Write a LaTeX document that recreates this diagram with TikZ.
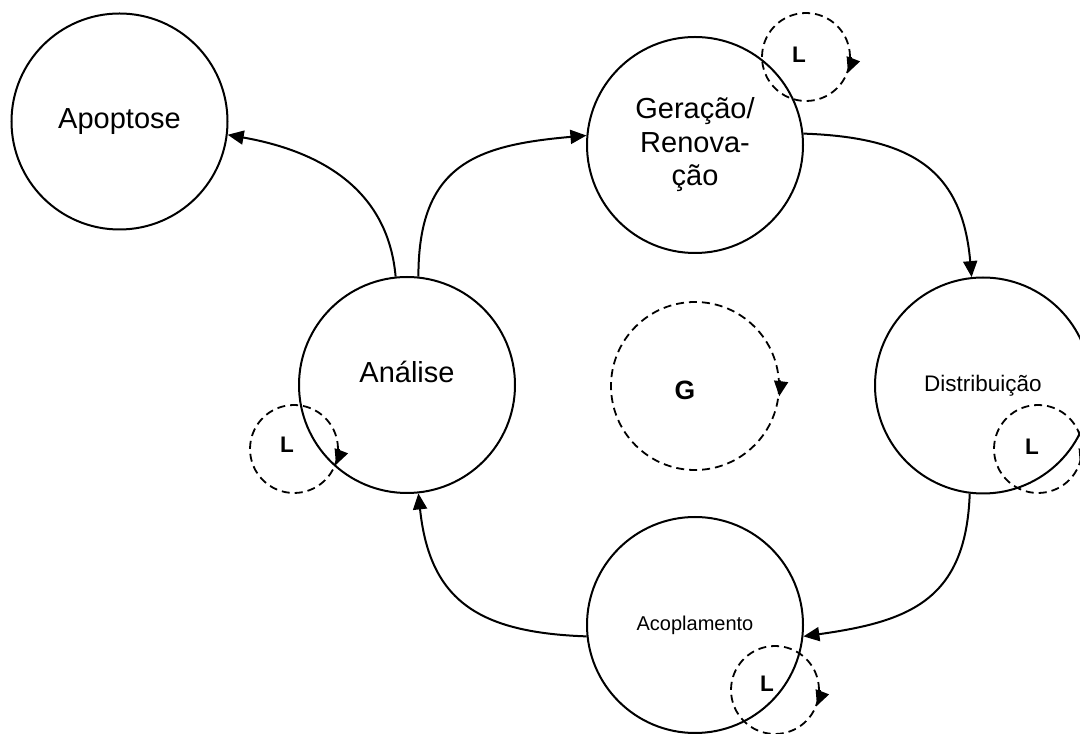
\documentclass[tikz,border=0pt]{standalone}
\usepackage{fontspec}
\setmainfont{Liberation Sans}
\usetikzlibrary{arrows.meta}
\begin{document}
\begin{tikzpicture}[x=1pt,y=1pt,
  phase/.style={circle, draw, line width=2pt, minimum size=216pt, inner sep=0pt, align=center},
  loopcirc/.style={circle, draw, dashed, line width=1.8pt, dash pattern=on 8pt off 5pt, inner sep=0pt},
  flow/.style={line width=2pt, -{Triangle[length=16pt,width=14pt]}},
  looptip/.style={line width=1.8pt, -{Triangle[length=15pt,width=14pt]}},
  bigtxt/.style={font=\fontsize{29}{33.5}\selectfont},
  looptxt/.style={font=\fontsize{22.5}{26}\selectfont\bfseries}
]
\fill[white] (0,0) rectangle (1080,734);
\useasboundingbox (0,0) rectangle (1080,734);

% phases of the cycle
\node[phase, bigtxt] (ap) at (119.5,612.5) {Apoptose};
\node[phase, bigtxt] (ge) at (695,589) {Geração/\\Renova-\\ção};
\node[phase] (an) at (407,349) {};
\node[bigtxt] (antxt) at (407,362) {Análise};
\node[phase, font=\fontsize{22.5}{26}\selectfont] (di) at (983,348.5) {Distribuição};
\node[phase, font=\fontsize{20}{24}\selectfont] (ac) at (695,109) {Acoplamento};

% global loop
\node[loopcirc, minimum size=168pt] (g) at (695,348) {};
\node[font=\fontsize{26.5}{30}\selectfont\bfseries] (gtxt) at (685,344) {G};
\draw[looptip] (g.4) arc[start angle=4, end angle=-7, radius=84];

% local loops
\node[loopcirc, minimum size=88pt] (lge) at (806,677) {};
\node[looptxt] (lgetxt) at (799,679) {L};
\draw[looptip] (lge.0) arc[start angle=0, end angle=-21, radius=44];

\node[loopcirc, minimum size=88pt] (lan) at (294,285) {};
\node[looptxt] (lantxt) at (287,289) {L};
\draw[looptip] (lan.0) arc[start angle=0, end angle=-21, radius=44];

\node[loopcirc, minimum size=88pt] (ldi) at (1038,285) {};
\node[looptxt] (lditxt) at (1032,287) {L};
\draw[looptip] (ldi.0) arc[start angle=0, end angle=-21, radius=44];

\node[loopcirc, minimum size=88pt] (lac) at (775,44) {};
\node[looptxt] (lactxt) at (767,50) {L};
\draw[looptip] (lac.0) arc[start angle=0, end angle=-21, radius=44];

% transitions
\draw[flow] (an.96) to[out=95, in=-10, looseness=1.05] (ap.-7);
\draw[flow] (an.84) to[out=90, in=185, looseness=1.3] (ge.175);
\draw[flow] (ge.6) to[out=-2, in=95, looseness=1.25] (di.96);
\draw[flow] (di.-97) to[out=-92, in=8, looseness=1.25] (ac.-6);
\draw[flow] (ac.186) to[out=178, in=-84, looseness=1.25] (an.-84);
\end{tikzpicture}
\end{document}
